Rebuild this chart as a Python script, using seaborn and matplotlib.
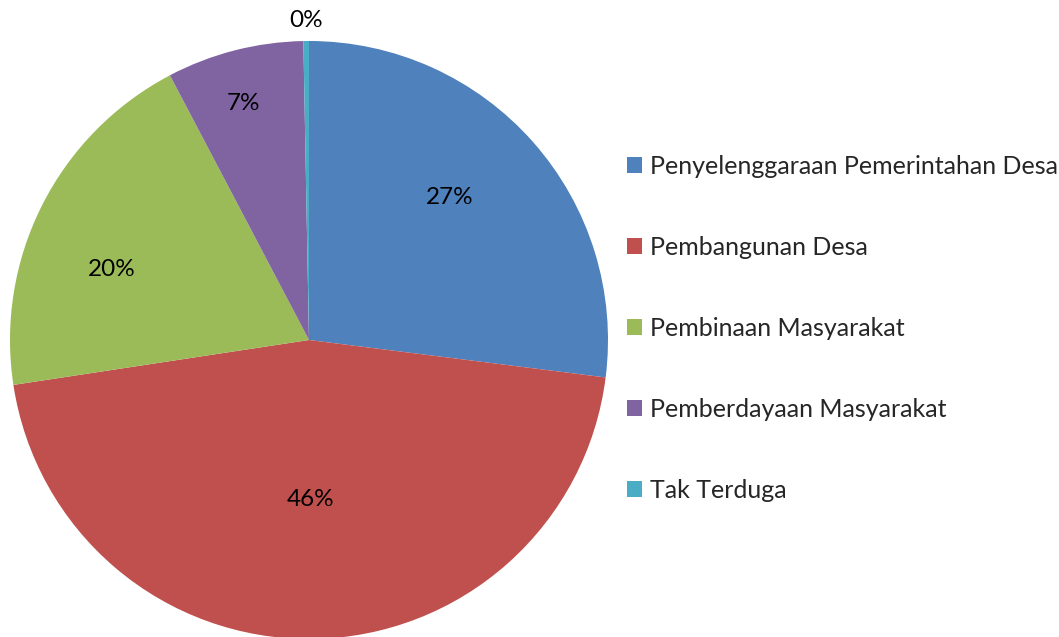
import numpy as np
import seaborn as sns
import matplotlib.pyplot as plt

categories = ["Penyelenggaraan Pemerintahan Desa", "Pembangunan Desa",
              "Pembinaan Masyarakat", "Pemberdayaan Masyarakat", "Tak Terduga"]
values = [27.0, 45.6, 19.7, 7.4, 0.3]
pct_labels = ["27%", "46%", "20%", "7%", "0%"]
colors = ["#4F81BD", "#C0504D", "#9BBB59", "#8064A2", "#4BACC6"]

sns.set_style("white")
plt.rcParams["font.family"] = ["Lato", "DejaVu Sans"]

fig = plt.figure(figsize=(10.59, 6.37), dpi=100)
ax = fig.add_axes([10 / 1059, -2 / 637, 598 / 1059, 598 / 637])

wedges, _ = ax.pie(values, colors=colors, startangle=90, counterclock=False,
                   radius=1, wedgeprops=dict(linewidth=0))
ax.set_xlim(-1, 1)
ax.set_ylim(-1, 1)
ax.set_aspect("equal")
ax.axis("off")

# label placement like excel's best fit
dist = [0.67, 0.535, 0.70, 0.82, 1.07]
shift = [4, 0, 7, 1, 0]
for w, lab, d, s in zip(wedges, pct_labels, dist, shift):
    ang = np.deg2rad((w.theta1 + w.theta2) / 2 + s)
    ax.text(d * np.cos(ang), d * np.sin(ang), lab, ha="center", va="center",
            fontsize=17.5, color="black")

fig.legend(wedges, categories, loc="upper left", bbox_to_anchor=(627 / 1059, 1 - 155 / 637),
           frameon=False, fontsize=18, handlelength=0.6, handleheight=0.6,
           handletextpad=0.3, labelspacing=2.32, borderaxespad=0, borderpad=0)

fig.savefig("out.png", dpi=100)
